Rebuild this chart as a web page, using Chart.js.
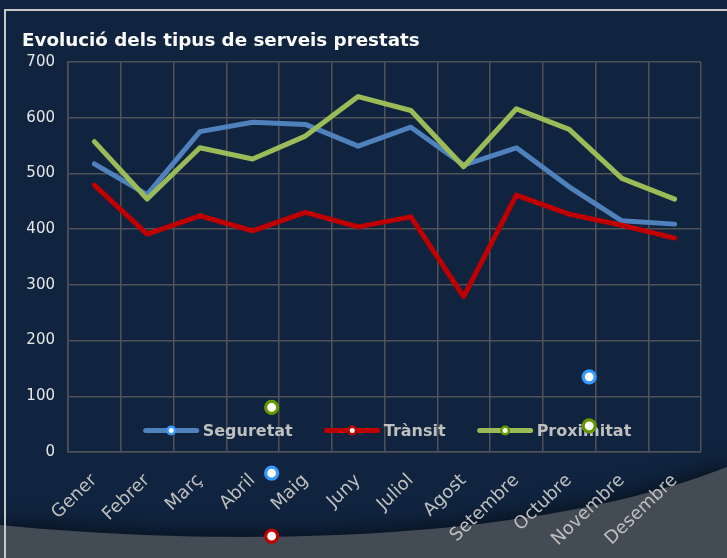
<!DOCTYPE html>
<html><head><meta charset="utf-8">
<script src="https://cdn.jsdelivr.net/npm/chart.js@4/dist/chart.umd.min.js"></script>
<style>html,body{margin:0;padding:0;background:#10243f;overflow:hidden}canvas{display:block}</style>
</head><body>
<canvas id="c" width="727" height="558"></canvas>
<script>
const titleText = 'Evolució dels tipus de serveis prestats';
const months = ['Gener','Febrer','Març','Abril','Maig','Juny','Juliol','Agost','Setembre','Octubre','Novembre','Desembre'];
const seriesNames = ['Seguretat','Trànsit','Proximitat'];
const seguretat = [517,462,575,592,588,549,583,515,546,476,415,409];
const transit = [479,391,424,397,430,404,422,279,461,427,407,384];
const proximitat = [557,454,546,526,567,638,613,512,616,579,491,454];
const yMin = 0, yMax = 700, yStep = 100;
// stray marker symbols visible in the reference (position in data units)
const strayX = [3.36, 3.36, 3.36, 9.38, 9.38];
const strayY = [80, -38, -151, 135, 47];
const straySeries = [2, 0, 1, 0, 2];

const lineColors = ['#4f81bd','#c00000','#9bbb59'];
const markerColors = ['#3399ff','#c00000','#669900'];
const gridColor = '#4e5156';

const bgPlugin = {
  id:'bg',
  beforeDraw(chart){
    const {ctx,width,height} = chart;
    ctx.save();
    ctx.fillStyle = '#10243f';
    ctx.fillRect(0,0,width,height);
    ctx.save();
    ctx.shadowColor='rgba(0,0,0,0.55)'; ctx.shadowBlur=20; ctx.shadowOffsetY=-4;
    ctx.beginPath();
    ctx.moveTo(0,525);
    ctx.bezierCurveTo(200,545,520,548,727,467);
    ctx.lineTo(727,height+20); ctx.lineTo(0,height+20); ctx.closePath();
    ctx.fillStyle='#434b55'; ctx.fill();
    ctx.restore();
    ctx.strokeStyle='#c8c8c8'; ctx.lineWidth=2;
    ctx.beginPath(); ctx.moveTo(5,height); ctx.lineTo(5,10); ctx.lineTo(width,10); ctx.stroke();
    ctx.fillStyle='#ffffff';
    ctx.font='bold 18.3px "DejaVu Sans"';
    ctx.textBaseline='alphabetic'; ctx.textAlign='left';
    ctx.fillText(titleText, 22, 46);
    ctx.restore();
  },
  beforeDatasetsDraw(chart){
    const {ctx} = chart; const ca = chart.chartArea;
    ctx.save();
    ctx.font='bold 16px "DejaVu Sans"';
    const lineLen=55, gapText=4, gapItem=32;
    const ws = seriesNames.map(n=>ctx.measureText(n).width);
    const total = ws.reduce((a,w)=>a+lineLen+gapText+w,0) + gapItem*(seriesNames.length-1);
    let x = (ca.left+ca.right)/2 - total/2 + 3;
    const y = ca.bottom - 21.5;
    seriesNames.forEach((n,i)=>{
      ctx.strokeStyle=lineColors[i]; ctx.lineWidth=5; ctx.lineCap='round';
      ctx.beginPath(); ctx.moveTo(x+2,y); ctx.lineTo(x+lineLen-2,y); ctx.stroke();
      ctx.beginPath(); ctx.arc(x+lineLen/2,y,3.8,0,Math.PI*2);
      ctx.fillStyle='#ffffff'; ctx.fill();
      ctx.strokeStyle=markerColors[i]; ctx.lineWidth=2.6; ctx.stroke();
      ctx.fillStyle='#bfbfbf'; ctx.textBaseline='middle'; ctx.textAlign='left';
      ctx.fillText(n, x+lineLen+gapText, y+1);
      x += lineLen+gapText+ws[i]+gapItem;
    });
    ctx.restore();
  },
  afterDatasetsDraw(chart){
    const {ctx} = chart; const xs = chart.scales.xm, ys = chart.scales.y;
    ctx.save();
    strayX.forEach((v,i)=>{
      const px = xs.getPixelForValue(v), py = ys.getPixelForValue(strayY[i]);
      ctx.beginPath(); ctx.arc(px,py,6,0,Math.PI*2);
      ctx.fillStyle='#ffffff'; ctx.fill();
      ctx.strokeStyle=markerColors[straySeries[i]]; ctx.lineWidth=3.2; ctx.stroke();
    });
    ctx.restore();
  }
};

const seriesData = [seguretat, transit, proximitat];
const datasets = seriesData.map((d,i)=>({
  type:'line', label:seriesNames[i], data:d, borderColor:lineColors[i], backgroundColor:lineColors[i],
  borderWidth:5, pointRadius:0, tension:0, borderCapStyle:'round', borderJoinStyle:'round', order:3-i, fill:false
}));

new Chart(document.getElementById('c'), {
  data:{ labels:months, datasets },
  options:{
    responsive:false, animation:false, devicePixelRatio:1,
    layout:{ padding:{ top:62, right:26, left:0, bottom:0 } },
    plugins:{ legend:{display:false}, tooltip:{enabled:false}, title:{display:false} },
    scales:{
      x:{ type:'category', offset:true,
        grid:{ offset:true, color:gridColor, lineWidth:1.5, drawTicks:false },
        border:{ color:gridColor, width:1.5 },
        ticks:{ color:'#bfbfbf', font:{family:'DejaVu Sans', size:18}, minRotation:44, maxRotation:44, autoSkip:false, padding:18 },
        afterFit(s){ s.height = 106; } },
      xm:{ type:'linear', display:false, min:-0.5, max:11.5 },
      y:{ min:yMin, max:yMax,
        ticks:{ stepSize:yStep, color:'#e6e6e6', font:{family:'DejaVu Sans', size:15}, padding:13 },
        grid:{ color:gridColor, lineWidth:1.5, drawTicks:false },
        border:{ color:gridColor, width:1.5 },
        afterFit(s){ s.width = 68; } }
    }
  },
  plugins:[bgPlugin]
});
</script>
</body></html>
